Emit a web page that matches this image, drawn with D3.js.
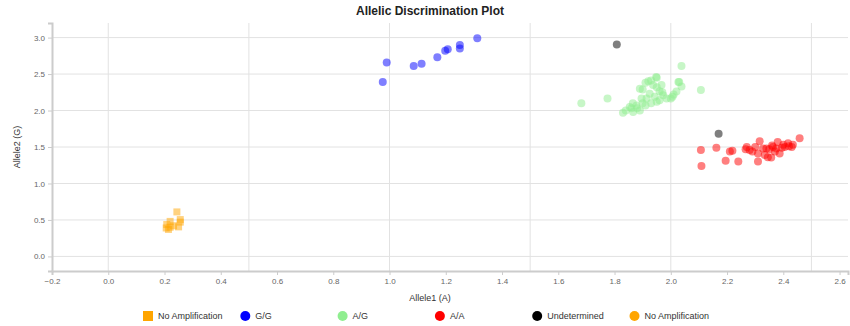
<!DOCTYPE html>
<html>
<head>
<meta charset="utf-8">
<script src="https://cdn.jsdelivr.net/npm/d3@7"></script>
<style>
  body { margin: 0; background: #fff; font-family: "Liberation Sans", Arial, sans-serif; }
  .axis path, .axis line { stroke: #ccc; }
  .axis text { fill: #666; font-size: 8px; }
</style>
</head>
<body>
<svg id="chart" width="850" height="326"></svg>
<script>
// readings
var ggX = [0.976, 0.99, 1.086, 1.114, 1.17, 1.198, 1.207, 1.25, 1.25, 1.312];
var ggY = [2.39, 2.66, 2.61, 2.64, 2.73, 2.82, 2.84, 2.90, 2.85, 2.99];

var agX = [1.682, 1.775, 2.038, 2.107, 1.83, 1.948, 2.027, 2.038, 2.02, 1.86, 1.878, 1.896, 1.90, 1.92,
           1.95, 1.937, 1.967, 1.96, 1.925, 1.943, 1.914, 1.973, 1.985, 2.0, 1.90, 1.93, 1.88, 1.866,
           2.03, 1.89, 1.95, 1.96, 1.91, 1.93, 1.865, 1.854, 1.84, 1.89, 1.91, 1.95, 2.006, 1.97, 2.01];
var agY = [2.10, 2.165, 2.61, 2.28, 1.97, 2.46, 2.39, 2.33, 2.26, 2.03, 2.07, 2.165, 2.29, 2.40,
           2.45, 2.35, 2.35, 2.265, 2.23, 2.19, 2.165, 2.21, 2.165, 2.165, 2.10, 2.10, 2.03, 1.98,
           2.39, 2.30, 2.32, 2.14, 2.38, 2.41, 2.10, 2.05, 2.0, 2.0, 2.07, 2.12, 2.19, 2.25, 2.22];

var aaX = [2.107, 2.109, 2.162, 2.21, 2.219, 2.195, 2.24, 2.27, 2.266, 2.316, 2.29, 2.31, 2.31, 2.334,
           2.357, 2.35, 2.328, 2.375, 2.38, 2.387, 2.417, 2.434, 2.43, 2.458, 2.405, 2.363, 2.30, 2.34,
           2.37, 2.40, 2.28, 2.36, 2.395, 2.42, 2.345];
var aaY = [1.46, 1.24, 1.49, 1.44, 1.45, 1.31, 1.30, 1.50, 1.47, 1.58, 1.44, 1.30, 1.41, 1.39,
           1.355, 1.47, 1.48, 1.48, 1.57, 1.41, 1.55, 1.53, 1.50, 1.62, 1.50, 1.50, 1.50, 1.48,
           1.44, 1.53, 1.46, 1.52, 1.49, 1.51, 1.36];

var undX = [1.808, 2.17];
var undY = [2.906, 1.68];

var noAmpX = [0.244, 0.22, 0.256, 0.208, 0.214, 0.25, 0.232, 0.22, 0.256, 0.206];
var noAmpY = [0.61, 0.48, 0.47, 0.437, 0.37, 0.405, 0.42, 0.40, 0.505, 0.39];

var legendLabels = ["No Amplification", "G/G", "A/G", "A/A", "Undetermined", "No Amplification"];
var legendColors = ["orange", "blue", "lightgreen", "red", "black", "orange"];

var xTicks = [-0.2, 0, 0.2, 0.4, 0.6, 0.8, 1.0, 1.2, 1.4, 1.6, 1.8, 2.0, 2.2, 2.4, 2.6];
var yTicks = [0, 0.5, 1.0, 1.5, 2.0, 2.5, 3.0];
var xGrid = [0, 0.5, 1.0, 1.5, 2.0, 2.5];

var svg = d3.select("#chart");
var mLeft = 52, mRight = 848, mTop = 23, mBottom = 271;

var x = d3.scaleLinear().domain([-0.2, 2.63]).range([mLeft, mRight]);
var y = d3.scaleLinear().domain([-0.2, 3.2]).range([mBottom, mTop]);

// grid
svg.append("g").selectAll("line").data(yTicks).enter().append("line")
  .attr("x1", mLeft).attr("x2", mRight)
  .attr("y1", function(d) { return y(d); }).attr("y2", function(d) { return y(d); })
  .attr("stroke", "#e2e2e2");
svg.append("g").selectAll("line").data(xGrid).enter().append("line")
  .attr("y1", mTop).attr("y2", mBottom)
  .attr("x1", function(d) { return x(d); }).attr("x2", function(d) { return x(d); })
  .attr("stroke", "#e2e2e2");

// axes
svg.append("g").attr("class", "axis")
  .attr("transform", "translate(0," + mBottom + ")")
  .call(d3.axisBottom(x).tickValues(xTicks).tickFormat(d3.format(".1f")).tickSizeOuter(4).tickSize(4))
  .select(".domain").attr("stroke-width", 2);
svg.append("g").attr("class", "axis")
  .attr("transform", "translate(" + mLeft + ",0)")
  .call(d3.axisLeft(y).tickValues(yTicks).tickFormat(d3.format(".1f")).tickSizeOuter(4).tickSize(4))
  .select(".domain").attr("stroke-width", 2);

// points
function dots(xs, ys, color) {
  svg.append("g").selectAll("circle").data(xs).enter().append("circle")
    .attr("cx", function(d) { return x(d); })
    .attr("cy", function(d, i) { return y(ys[i]); })
    .attr("r", 4)
    .attr("fill", color)
    .attr("fill-opacity", 0.5);
}
dots(ggX, ggY, "blue");
dots(agX, agY, "lightgreen");
dots(aaX, aaY, "red");
dots(undX, undY, "black");

svg.append("g").selectAll("rect").data(noAmpX).enter().append("rect")
  .attr("x", function(d) { return x(d) - 3.5; })
  .attr("y", function(d, i) { return y(noAmpY[i]) - 3.5; })
  .attr("width", 7).attr("height", 7)
  .attr("fill", "orange")
  .attr("fill-opacity", 0.5);

// titles
svg.append("text").attr("x", 430).attr("y", 15).attr("text-anchor", "middle")
  .attr("font-size", 12).attr("font-weight", "bold").attr("fill", "#222")
  .text("Allelic Discrimination Plot");
svg.append("text").attr("x", 430).attr("y", 301).attr("text-anchor", "middle")
  .attr("font-size", 9).attr("fill", "#333").text("Allele1 (A)");
svg.append("text").attr("transform", "translate(20,147) rotate(-90)").attr("text-anchor", "middle")
  .attr("font-size", 9).attr("fill", "#333").text("Allele2 (G)");

// legend
var lg = svg.append("g").selectAll("g").data(legendLabels).enter().append("g")
  .attr("transform", function(d, i) { return "translate(" + (148 + i * 97.3) + ",316)"; });
lg.each(function(d, i) {
  var g = d3.select(this);
  if (i === 0) {
    g.append("rect").attr("x", -5).attr("y", -5).attr("width", 10).attr("height", 10).attr("fill", legendColors[i]);
  } else {
    g.append("circle").attr("r", 5).attr("fill", legendColors[i]);
  }
  g.append("text").attr("x", 10).attr("y", 3).attr("font-size", 9).attr("fill", "#333").text(d);
});
</script>
</body>
</html>
